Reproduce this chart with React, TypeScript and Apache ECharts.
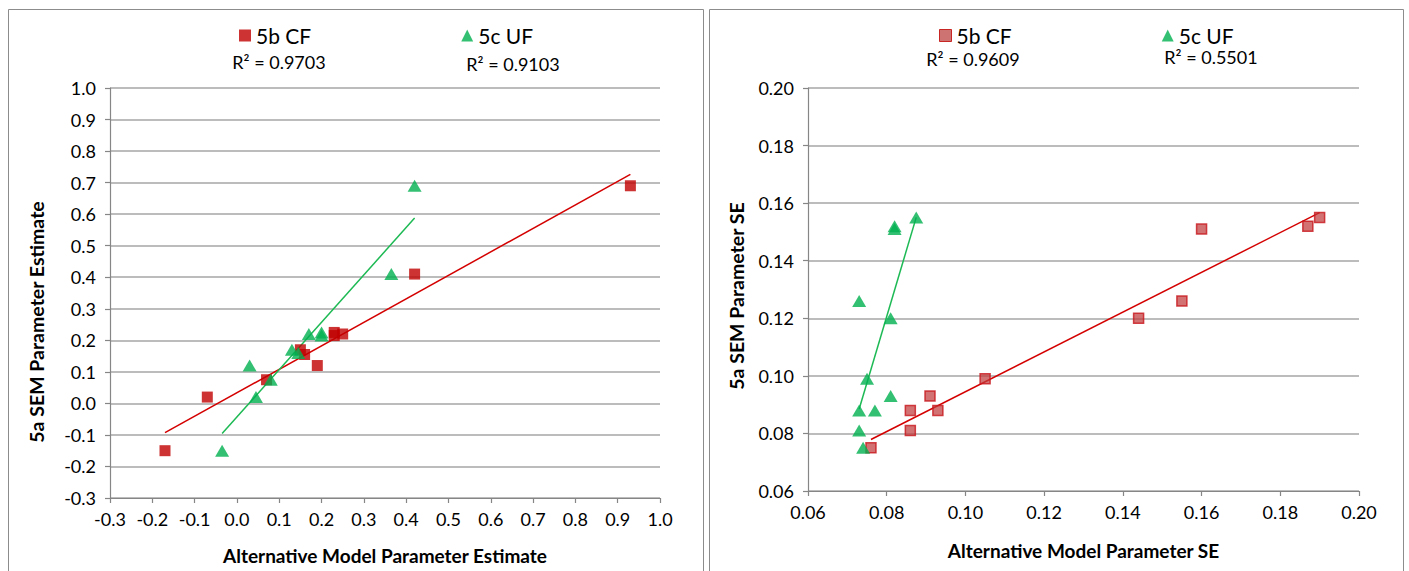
import React, { useEffect, useRef } from "react";
import * as echarts from "echarts";

// Left panel: parameter estimates
const cfEstX = [-0.17, -0.07, 0.07, 0.15, 0.16, 0.19, 0.23, 0.23, 0.25, 0.42, 0.93];
const cfEstY = [-0.15, 0.02, 0.075, 0.17, 0.155, 0.12, 0.225, 0.215, 0.22, 0.41, 0.69];
const ufEstX = [-0.035, 0.03, 0.045, 0.08, 0.13, 0.145, 0.17, 0.2, 0.2, 0.365, 0.42];
const ufEstY = [-0.15, 0.12, 0.02, 0.075, 0.17, 0.16, 0.22, 0.225, 0.215, 0.41, 0.69];

// Right panel: standard errors
const cfSeX = [0.076, 0.086, 0.086, 0.091, 0.093, 0.105, 0.144, 0.155, 0.16, 0.187, 0.19];
const cfSeY = [0.075, 0.088, 0.081, 0.093, 0.088, 0.099, 0.12, 0.126, 0.151, 0.152, 0.155];
const ufSeX = [0.074, 0.073, 0.073, 0.077, 0.073, 0.075, 0.081, 0.081, 0.082, 0.082, 0.0875];
const ufSeY = [0.075, 0.081, 0.088, 0.088, 0.126, 0.099, 0.093, 0.12, 0.151, 0.152, 0.155];

const seriesNames = ["5b CF", "5c UF"];
const r2Left = ["R² = 0.9703", "R² = 0.9103"];
const r2Right = ["R² = 0.9609", "R² = 0.5501"];
const leftAxisNames = ["Alternative Model Parameter Estimate", "5a SEM Parameter Estimate"];
const rightAxisNames = ["Alternative Model Parameter SE", "5a SEM Parameter SE"];

const FONT = "Lato, 'Liberation Sans', sans-serif";

function zip(xs: number[], ys: number[]) {
  return xs.map((x, i) => [x, ys[i]]);
}

function trend(xs: number[], ys: number[]) {
  const n = xs.length;
  const mx = xs.reduce((a, b) => a + b, 0) / n;
  const my = ys.reduce((a, b) => a + b, 0) / n;
  let sxy = 0;
  let sxx = 0;
  for (let i = 0; i < n; i++) {
    sxy += (xs[i] - mx) * (ys[i] - my);
    sxx += (xs[i] - mx) * (xs[i] - mx);
  }
  const b = sxy / sxx;
  const a = my - b * mx;
  const x0 = Math.min(...xs);
  const x1 = Math.max(...xs);
  return [
    [x0, a + b * x0],
    [x1, a + b * x1],
  ];
}

export default function App() {
  const ref = useRef<HTMLDivElement>(null);

  useEffect(() => {
    if (!ref.current) return;
    const chart = echarts.init(ref.current, null, { renderer: "svg" });

    const axisCommon = {
      axisLine: { show: true, onZero: false, lineStyle: { color: "#868686", width: 1.2 } },
      axisTick: { show: true, inside: false, length: 5, lineStyle: { color: "#868686", width: 1.2 } },
      axisLabel: { color: "#000", fontSize: 18, fontFamily: FONT },
      nameTextStyle: { color: "#000", fontSize: 19, fontWeight: "bold" as const, fontFamily: FONT },
      nameLocation: "middle" as const,
    };

    const redSolid = "#C00000";
    const green = "#00B050";

    const legendText = { fontSize: 21, lineHeight: 21, color: "#000", fontFamily: FONT };
    const r2Style = (t: string) => ({
      text: t,
      fontSize: 18,
      lineHeight: 18,
      fontFamily: FONT,
      fill: "#000",
      align: "center",
      verticalAlign: "middle",
    });

    const option: any = {
      animation: false,
      backgroundColor: "#fff",
      legend: [
        {
          left: 234,
          top: 20,
          itemGap: 150,
          itemWidth: 12,
          itemHeight: 12,
          textStyle: legendText,
          data: [
            { name: seriesNames[0], icon: "rect", itemStyle: { color: redSolid } },
            { name: seriesNames[1], icon: "triangle", itemStyle: { color: green } },
          ],
          selectedMode: false,
        },
        {
          left: 934,
          top: 20,
          itemGap: 150,
          itemWidth: 12,
          itemHeight: 12,
          textStyle: legendText,
          data: [
            {
              name: seriesNames[0],
              icon: "rect",
              itemStyle: { color: "#C0504D", borderColor: "#C00000", borderWidth: 1 },
            },
            { name: seriesNames[1], icon: "triangle", itemStyle: { color: green } },
          ],
          selectedMode: false,
        },
      ],
      grid: [
        { left: 110, top: 88, width: 550, height: 410 },
        { left: 808, top: 88, width: 551, height: 403 },
      ],
      xAxis: [
        {
          ...axisCommon,
          gridIndex: 0,
          type: "value",
          min: -0.3,
          max: 1.0,
          interval: 0.1,
          name: leftAxisNames[0],
          nameGap: 48,
          splitLine: { show: false },
          axisLabel: { ...axisCommon.axisLabel, margin: 12, formatter: (v: number) => v.toFixed(1) },
        },
        {
          ...axisCommon,
          gridIndex: 1,
          type: "value",
          min: 0.06,
          max: 0.2,
          interval: 0.02,
          name: rightAxisNames[0],
          nameGap: 50,
          splitLine: { show: false },
          axisLabel: { ...axisCommon.axisLabel, margin: 12, formatter: (v: number) => v.toFixed(2) },
        },
      ],
      yAxis: [
        {
          ...axisCommon,
          gridIndex: 0,
          type: "value",
          min: -0.3,
          max: 1.0,
          interval: 0.1,
          splitLine: { show: true, lineStyle: { color: "#A6A6A6", width: 1.5 } },
          axisLabel: { ...axisCommon.axisLabel, margin: 14, formatter: (v: number) => v.toFixed(1) },
        },
        {
          ...axisCommon,
          gridIndex: 1,
          type: "value",
          min: 0.06,
          max: 0.2,
          interval: 0.02,
          splitLine: { show: true, lineStyle: { color: "#A6A6A6", width: 1.5 } },
          axisLabel: { ...axisCommon.axisLabel, margin: 14, formatter: (v: number) => v.toFixed(2) },
        },
      ],
      series: [
        {
          name: "Linear (5b CF)",
          type: "line",
          xAxisIndex: 0,
          yAxisIndex: 0,
          data: trend(cfEstX, cfEstY),
          showSymbol: false,
          symbol: "none",
          lineStyle: { color: "#D40000", width: 1.5 },
          z: 2,
        },
        {
          name: "Linear (5c UF)",
          type: "line",
          xAxisIndex: 0,
          yAxisIndex: 0,
          data: trend(ufEstX, ufEstY),
          showSymbol: false,
          symbol: "none",
          lineStyle: { color: "#1DB954", width: 1.5 },
          z: 2,
        },
        {
          name: seriesNames[0],
          type: "scatter",
          xAxisIndex: 0,
          yAxisIndex: 0,
          data: zip(cfEstX, cfEstY),
          symbol: "rect",
          symbolSize: 11,
          itemStyle: { color: redSolid },
          z: 3,
        },
        {
          name: seriesNames[1],
          type: "scatter",
          xAxisIndex: 0,
          yAxisIndex: 0,
          data: zip(ufEstX, ufEstY),
          symbol: "triangle",
          symbolSize: [14, 12],
          itemStyle: { color: green },
          z: 3,
        },
        {
          name: "Linear (5b CF) SE",
          type: "line",
          xAxisIndex: 1,
          yAxisIndex: 1,
          data: trend(cfSeX, cfSeY),
          showSymbol: false,
          symbol: "none",
          lineStyle: { color: "#D40000", width: 1.5 },
          z: 2,
        },
        {
          name: "Linear (5c UF) SE",
          type: "line",
          xAxisIndex: 1,
          yAxisIndex: 1,
          data: trend(ufSeX, ufSeY),
          showSymbol: false,
          symbol: "none",
          lineStyle: { color: "#1DB954", width: 1.5 },
          z: 2,
        },
        {
          name: seriesNames[0],
          type: "scatter",
          xAxisIndex: 1,
          yAxisIndex: 1,
          data: zip(cfSeX, cfSeY),
          symbol: "rect",
          symbolSize: 10,
          itemStyle: { color: "rgba(192,60,60,0.9)", borderColor: "#C8161D", borderWidth: 1.5 },
          z: 3,
        },
        {
          name: seriesNames[1],
          type: "scatter",
          xAxisIndex: 1,
          yAxisIndex: 1,
          data: zip(ufSeX, ufSeY),
          symbol: "triangle",
          symbolSize: [14, 12],
          itemStyle: { color: green },
          z: 3,
        },
      ],
      graphic: [
        {
          type: "rect",
          shape: { x: 8.5, y: 9.5, width: 695, height: 600 },
          style: { fill: "none", stroke: "#8C8C8C", lineWidth: 1 },
          z: 0,
        },
        {
          type: "rect",
          shape: { x: 709.5, y: 9.5, width: 694, height: 600 },
          style: { fill: "none", stroke: "#8C8C8C", lineWidth: 1 },
          z: 0,
        },
        {
          type: "text",
          x: 36,
          y: 322,
          rotation: Math.PI / 2,
          style: {
            text: leftAxisNames[1],
            fontSize: 19.5,
            fontWeight: "bold",
            fontFamily: FONT,
            fill: "#000",
            align: "center",
            verticalAlign: "middle",
          },
        },
        {
          type: "text",
          x: 736,
          y: 296,
          rotation: Math.PI / 2,
          style: {
            text: rightAxisNames[1],
            fontSize: 19.5,
            fontWeight: "bold",
            fontFamily: FONT,
            fill: "#000",
            align: "center",
            verticalAlign: "middle",
          },
        },
        { type: "text", x: 279, y: 62, style: r2Style(r2Left[0]) },
        { type: "text", x: 513, y: 64, style: r2Style(r2Left[1]) },
        { type: "text", x: 973, y: 59, style: r2Style(r2Right[0]) },
        { type: "text", x: 1211, y: 57, style: r2Style(r2Right[1]) },
      ],
    };

    chart.setOption(option);
    return () => chart.dispose();
  }, []);

  return (
    <div
      ref={ref}
      style={{ position: "fixed", left: 0, top: 0, width: 1409, height: 571, background: "#fff" }}
    />
  );
}
